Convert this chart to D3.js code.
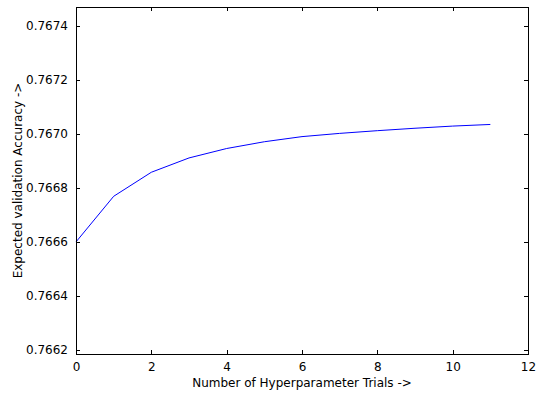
<!DOCTYPE html>
<html>
<head>
<meta charset="utf-8">
<script src="https://cdn.jsdelivr.net/npm/d3@7"></script>
<style>
  body { margin: 0; background: #fff; }
  text { font-family: "DejaVu Sans", sans-serif; }
</style>
</head>
<body>
<svg id="chart" width="539" height="394"></svg>
<script>
// trials and expected validation accuracy
const trials = [0, 1, 2, 3, 4, 5, 6, 7, 8, 9, 10, 11];
const accuracy = [0.76660, 0.766769, 0.766858, 0.766911, 0.766946, 0.766971,
                  0.766990, 0.767002, 0.767012, 0.767021, 0.767029, 0.767035];
const xTicks = [0, 2, 4, 6, 8, 10, 12];
const yTicks = [0.7662, 0.7664, 0.7666, 0.7668, 0.7670, 0.7672, 0.7674];

const margin = { top: 7, right: 11, bottom: 40, left: 76 };
const width = 539 - margin.left - margin.right;
const height = 394 - margin.top - margin.bottom;

const svg = d3.select('#chart');
const g = svg.append('g')
  .attr('transform', 'translate(' + margin.left + ',' + margin.top + ')');

const x = d3.scaleLinear().domain([0, 12]).range([0, width]);
const y = d3.scaleLinear().domain([0.766185, 0.767470]).range([height, 0]);

// ticks point inward, on all four sides
function styleAxis(sel) {
  sel.select('.domain').remove();
  sel.selectAll('.tick line').attr('stroke', '#000').attr('shape-rendering', 'crispEdges');
  sel.selectAll('.tick text').attr('fill', '#000').attr('font-size', 12);
}

g.append('g')
  .attr('transform', 'translate(0,' + height + ')')
  .call(d3.axisBottom(x).tickValues(xTicks).tickSizeInner(-4).tickPadding(8).tickFormat(d3.format('d')))
  .call(styleAxis);
g.append('g')
  .call(d3.axisTop(x).tickValues(xTicks).tickSizeInner(-4).tickFormat(''))
  .call(styleAxis);
g.append('g')
  .call(d3.axisLeft(y).tickValues(yTicks).tickSizeInner(-4).tickPadding(8).tickFormat(d3.format('.4f')))
  .call(styleAxis);
g.append('g')
  .attr('transform', 'translate(' + width + ',0)')
  .call(d3.axisRight(y).tickValues(yTicks).tickSizeInner(-4).tickFormat(''))
  .call(styleAxis);

const line = d3.line()
  .x((d, i) => x(trials[i]))
  .y(d => y(d));

g.append('path')
  .datum(accuracy)
  .attr('fill', 'none')
  .attr('stroke', '#0000ff')
  .attr('stroke-width', 1)
  .attr('d', line);

g.append('rect')
  .attr('x', 0.5)
  .attr('y', 0.5)
  .attr('width', width)
  .attr('height', height)
  .attr('fill', 'none')
  .attr('stroke', '#000')
  .attr('stroke-width', 1);

svg.append('text')
  .attr('x', margin.left + width / 2)
  .attr('y', 387)
  .attr('text-anchor', 'middle')
  .attr('font-size', 12)
  .text('Number of Hyperparameter Trials ->');

svg.append('text')
  .attr('transform', 'translate(22,' + (margin.top + height / 2) + ') rotate(-90)')
  .attr('text-anchor', 'middle')
  .attr('font-size', 12)
  .text('Expected validation Accuracy ->');
</script>
</body>
</html>
